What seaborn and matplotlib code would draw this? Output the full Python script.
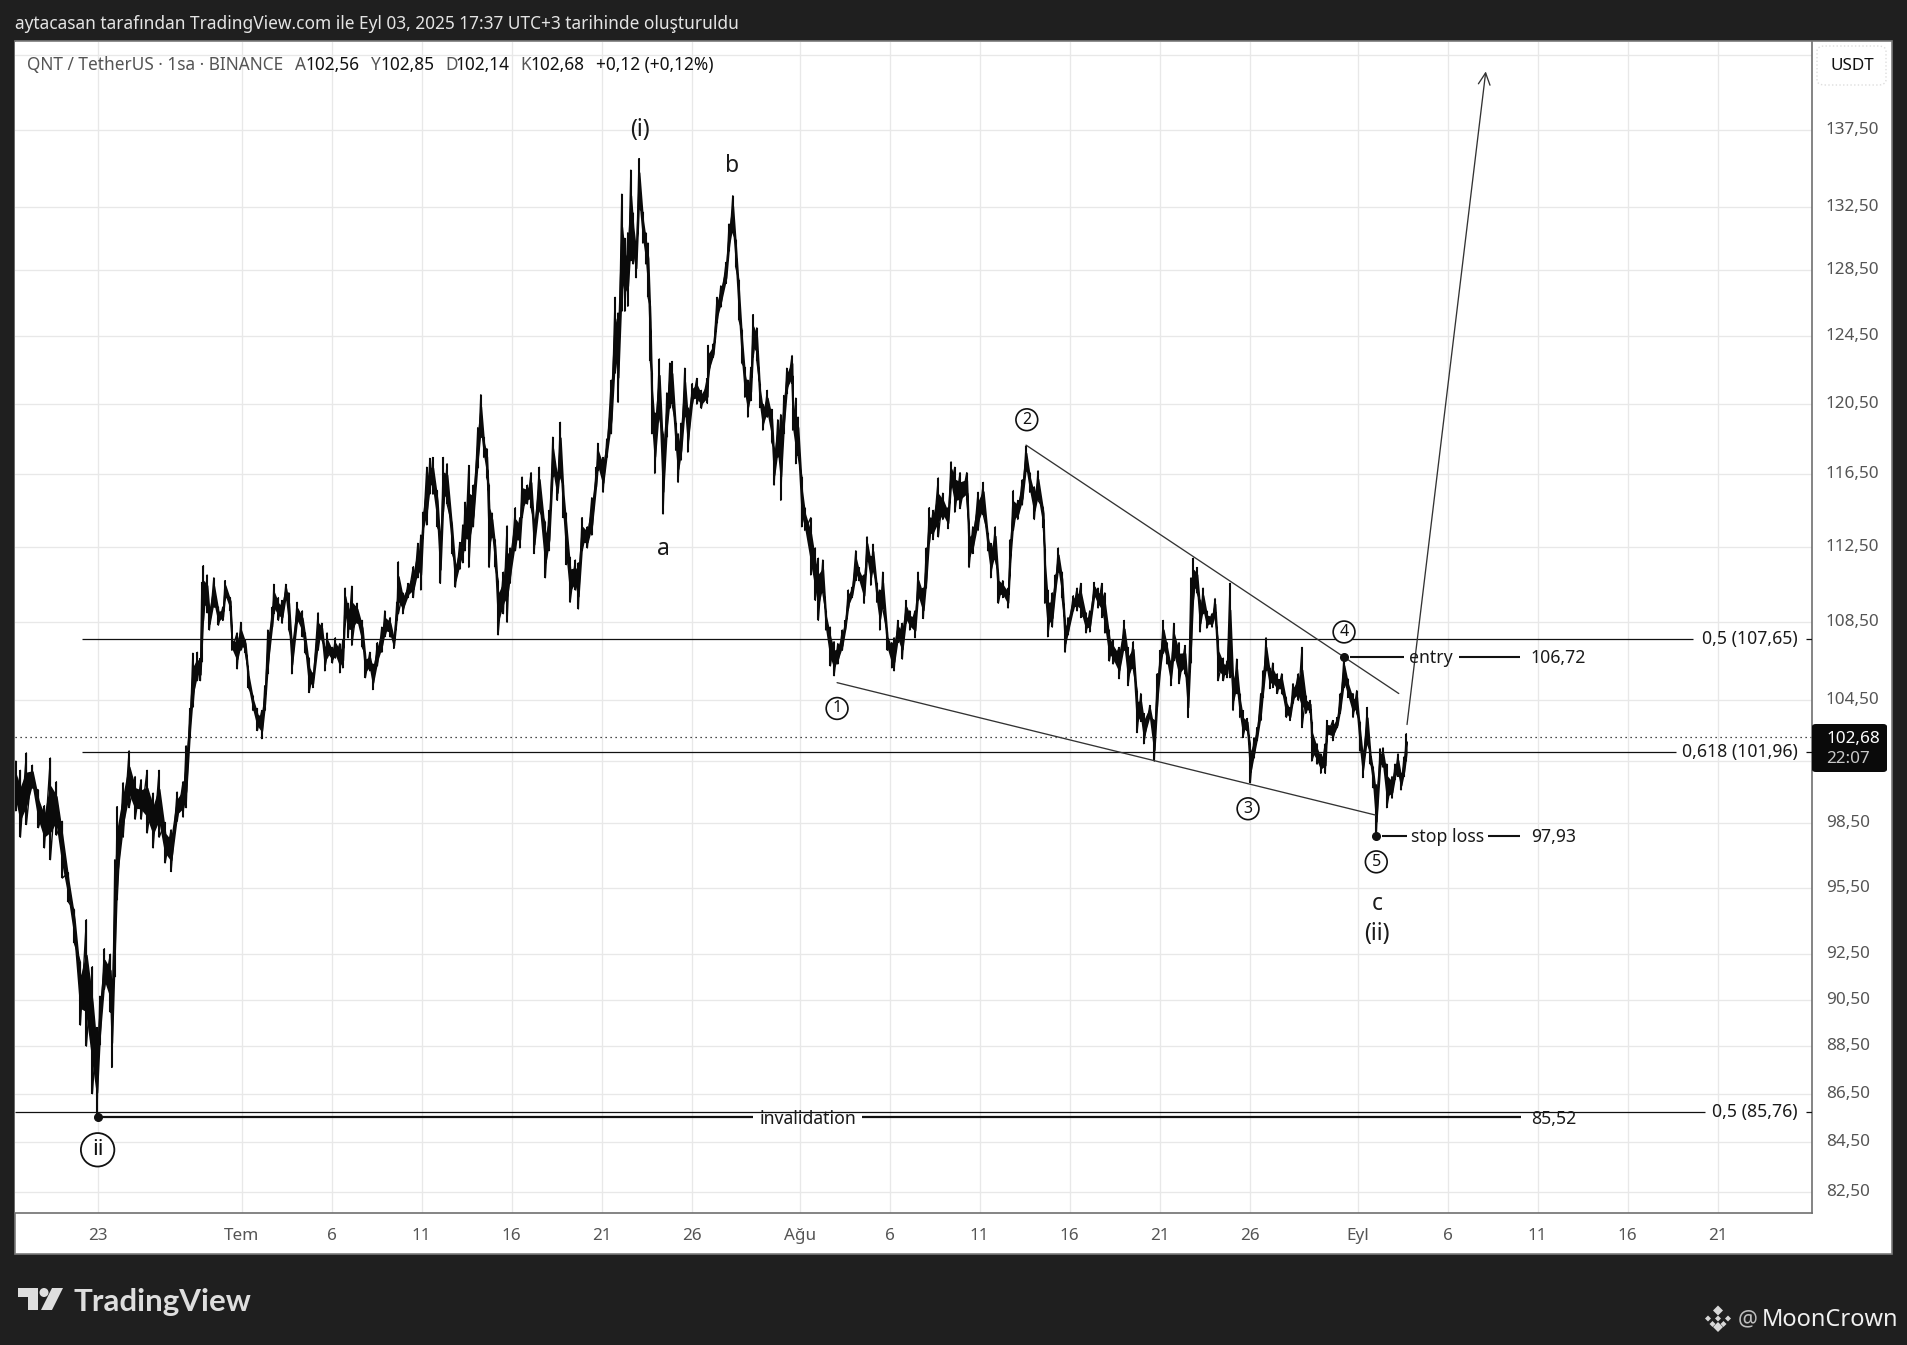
import matplotlib
matplotlib.use("Agg")
import matplotlib.pyplot as plt
import seaborn as sns
import pandas as pd
import numpy as np
from matplotlib.patches import Rectangle, Polygon, FancyBboxPatch, Ellipse
from matplotlib.ticker import NullLocator
from matplotlib.transforms import ScaledTranslation

W, H = 1908, 1345
BG = "#1f1f1f"
FONT = "Noto Sans"

# hours since 18 June 00:00 (1 hour candles, sampled)
hours = [
 11,17,25,33,41,49,57,65,73,81,
 89,97,105,113,119,123,129,137,139,143,
 146,154,162,170,178,186,194,202,210,218,
 226,234,238,243,247,253,257,259,261,266,
 269,275,281,287,290,297,299,306,311,317,
 321,327,333,339,343,347,353,355,361,366,
 371,375,379,386,393,397,402,407,414,419,
 423,426,433,437,443,447,450,454,459,466,
 473,477,483,487,493,499,503,510,515,519,
 521,527,534,541,547,551,554,559,563,567,
 573,577,581,586,593,597,603,607,610,615,
 621,627,631,635,639,642,646,650,654,661,
 666,670,677,683,686,693,698,702,709,717,
 722,727,733,737,741,745,750,757,761,766,
 773,779,785,787,794,799,805,810,814,819,
 823,827,831,834,838,842,847,851,854,857,
 859,863,869,874,879,883,886,891,894,898,
 903,907,913,919,925,933,934,941,946,951,
 958,962,967,971,975,979,983,987,991,994,
 999,1003,1007,1013,1019,1022,1027,1031,1035,1039,
 1046,1047,1051,1054,1059,1063,1071,1077,1081,1087,
 1091,1097,1102,1107,1113,1117,1121,1126,1131,1135,
 1142,1146,1151,1154,1159,1163,1167,1173,1179,1182,
 1187,1193,1198,1203,1210,1214,1221,1225,1229,1234,
 1241,1247,1254,1258,1263,1270,1279,1282,1287,1294,
 1301,1307,1311,1317,1321,1327,1334,1337,1341,1347,
 1353,1358,1363,1369,1374,1381,1383,1387,1393,1397,
 1401,1406,1410,1414,1421,1426,1431,1438,1443,1449,
 1454,1459,1463,1469,1474,1482,1489,1494,1501,1506,
 1511,1515,1523,1529,1533,1537,1541,1546,1551,1555,
 1562,1570,1574,1578,1581,1586,1590,1594,1599,1606,
 1610,1614,1621,1626,1630,1634,1639,1643,1647,1653,
 1657,1662,1666,1671,1674,1678,1683,1687,1693,1699,
 1705,1710,1714,1721,1726,1731,1737,1739,1746,1751,
 1757,1759,1767,1773,1777,1782,1787,1794,1799,1803,
 1807,1813,1817,1821,1825,1830,1834,1839,1846,1850,
 1854,1858,1862,1865]

highs = [
 101.5,101.05,101.9,101.3,100.1,99.35,101.65,100.5,98.6,96.2,
 94.5,92.15,94.05,91.95,89.3,90.65,92.75,92.5,91.4,96.8,
 99.3,100.45,102.0,100.75,100.6,101.05,99.95,101.05,98.55,98.2,
 100.0,100.5,102.25,104.1,106.9,106.95,106.65,110.6,111.5,111.0,
 109.3,110.85,109.3,109.3,110.7,109.8,107.75,107.95,108.5,107.6,
 106.0,104.75,104.1,104.0,105.25,108.1,109.3,110.5,109.8,109.65,
 110.5,110.05,107.6,109.55,109.1,107.95,106.65,105.9,109.0,108.45,
 107.2,107.95,107.2,107.7,107.4,107.6,110.3,109.5,110.4,109.5,
 108.6,106.9,106.95,106.35,107.45,108.25,109.1,108.75,107.75,109.55,
 111.7,110.05,110.55,111.45,112.7,113.15,114.4,116.9,117.4,117.45,
 115.6,113.25,117.45,117.1,113.7,111.65,112.75,113.7,114.95,117.0,
 115.9,119.15,121.05,118.6,117.95,115.9,114.35,112.9,110.7,111.15,
 113.65,112.45,114.65,114.1,116.35,115.9,116.6,113.95,116.9,113.85,
 114.5,118.6,116.6,119.45,115.9,114.35,111.95,111.8,111.65,114.1,
 113.6,115.2,116.9,118.25,117.45,118.5,121.9,126.85,125.9,133.3,
 130.5,130.85,134.85,132.1,130.2,135.6,132.15,130.85,130.2,126.3,
 122.3,120.0,123.15,118.8,121.15,122.9,123.0,119.4,118.8,119.4,
 122.6,120.3,121.7,122.0,121.3,122.0,123.95,124.05,126.85,127.55,
 129.0,131.4,133.2,130.4,127.9,124.9,122.65,121.9,122.65,125.8,
 125.0,121.7,120.5,121.3,120.2,118.0,119.6,119.9,121.0,122.6,
 123.35,120.3,120.85,119.75,116.35,114.65,114.1,112.45,111.9,111.8,
 109.1,108.25,107.5,107.4,108.1,108.6,110.2,110.35,112.3,111.4,
 111.0,113.05,112.0,112.65,110.55,110.2,111.15,108.0,107.45,107.7,
 108.6,108.45,109.65,109.1,109.1,111.15,110.3,112.45,114.65,114.5,
 116.3,115.45,114.65,117.2,116.9,116.6,116.6,113.6,113.6,115.5,
 116.05,113.25,112.7,113.6,111.15,110.7,110.3,112.9,115.6,115.05,
 116.2,118.1,116.6,115.8,116.7,114.65,112.4,110.2,110.05,111.0,
 112.45,111.15,108.6,108.75,109.9,110.3,110.55,109.0,109.1,110.6,
 110.3,110.55,110.05,108.1,107.6,107.2,108.6,107.2,107.5,105.0,
 104.85,103.85,104.25,103.5,105.85,107.05,108.6,107.45,106.5,108.45,
 107.45,107.3,105.5,110.85,111.9,111.4,109.65,110.3,109.1,108.95,
 109.75,107.6,106.65,106.5,110.55,105.85,106.6,104.85,104.0,103.6,
 102.35,102.65,103.15,104.85,106.0,107.7,106.15,106.4,105.85,105.85,
 104.65,104.15,105.35,105.85,107.2,104.75,104.5,103.45,102.35,101.85,
 102.35,103.5,103.5,103.65,104.85,106.72,105.6,104.85,105.0,103.45,
 102.0,104.15,102.0,101.2,100.35,102.1,102.15,101.35,100.75,101.35,
 101.85,100.9,101.7,102.85]

lows = [
 99.1,97.85,98.45,100.2,98.3,97.35,96.8,97.95,95.95,94.85,
 93.0,89.4,88.5,86.5,85.52,88.55,90.95,89.95,87.6,91.5,
 94.95,97.85,99.25,98.7,98.7,98.05,97.35,97.85,96.65,96.25,
 98.6,98.8,99.25,102.65,104.15,105.5,105.5,106.45,108.55,109.0,
 108.1,109.3,108.35,108.6,109.8,109.1,107.05,106.1,107.05,106.9,
 105.15,104.0,103.0,102.6,104.0,105.85,108.25,108.95,108.6,108.45,
 109.8,108.1,105.85,108.45,107.75,106.9,104.9,105.15,107.05,107.6,
 106.0,106.65,106.4,106.65,105.9,106.15,108.75,107.7,107.3,108.45,
 107.2,105.65,106.0,105.05,106.25,106.95,107.75,107.75,107.15,108.6,
 108.95,108.95,109.8,109.8,110.85,110.2,113.25,113.7,115.4,115.4,
 113.6,110.55,114.4,114.85,112.15,110.35,111.3,111.65,112.3,111.4,
 113.6,116.85,118.6,117.45,116.3,111.4,113.05,111.45,107.85,108.95,
 108.5,110.55,112.3,112.45,114.1,114.85,114.65,112.15,114.5,110.85,
 112.3,116.35,115.05,116.35,114.1,111.55,109.55,110.2,109.2,112.3,
 112.45,113.15,115.8,116.7,115.5,117.45,118.8,122.3,120.6,126.0,
 126.0,126.3,129.1,128.9,128.05,132.4,130.2,128.9,126.85,123.0,
 118.8,116.55,119.75,114.3,118.6,120.25,120.5,117.85,116.05,117.3,
 119.75,117.75,120.5,120.5,120.25,120.55,121.9,123.25,125.3,126.25,
 127.7,129.7,130.85,128.7,125.5,122.9,120.9,119.75,120.7,123.25,
 123.05,120.3,119.0,119.75,118.3,115.9,117.45,115.05,118.8,121.1,
 121.7,119.0,117.1,117.55,113.6,113.4,111.0,109.65,108.6,110.05,
 108.1,106.25,105.75,106.35,107.05,108.1,109.2,109.8,110.7,110.7,
 109.5,111.8,110.45,111.3,109.55,108.1,109.2,107.05,106.15,106.0,
 107.45,106.6,108.45,108.1,107.7,109.65,108.7,110.3,112.7,112.9,
 113.05,114.0,113.5,115.8,114.4,114.6,115.05,111.4,112.15,113.4,
 114.25,112.3,110.85,111.8,109.5,109.8,109.25,111.65,113.4,114.0,
 114.8,116.7,115.5,114.0,115.05,113.55,109.5,107.75,108.25,110.05,
 111.15,109.8,106.95,107.85,109.1,109.1,108.75,107.95,108.0,109.8,
 109.25,108.75,107.95,106.5,106.35,105.6,107.05,105.25,106.1,102.9,
 103.45,102.35,103.65,101.5,104.15,106.0,106.9,106.35,105.25,106.5,
 105.35,105.85,103.65,106.4,109.65,110.05,108.0,108.95,108.2,108.25,
 108.75,105.5,105.5,105.65,105.65,104.0,104.85,103.65,102.65,103.0,
 100.45,101.65,102.5,103.5,104.65,106.0,105.1,105.15,104.85,104.85,
 103.65,103.5,104.35,104.5,103.15,103.85,103.85,101.5,101.35,100.9,
 100.9,102.65,102.5,103.15,103.85,105.15,104.65,103.65,103.85,102.0,
 100.7,102.35,101.35,100.2,97.93,101.05,101.2,99.25,99.7,100.6,
 100.75,100.1,100.75,101.5]

price_ticks = [142.5,137.5,132.5,128.5,124.5,120.5,116.5,112.5,108.5,104.5,101.5,98.5,95.5,92.5,90.5,88.5,86.5,84.5,82.5]
hidden_price_ticks = [142.5, 101.5]
time_ticks = [120,312,432,552,672,792,912,1056,1176,1296,1416,1536,1656,1800,1920,2040,2160,2280]
time_labels = ["23","Tem","6","11","16","21","26","Ağu","6","11","16","21","26","Eyl","6","11","16","21"]

last_price = 102.68
fib_05_up, fib_0618, fib_05_low = 107.65, 101.96, 85.76
entry, stop_loss, invalidation = 106.72, 97.93, 85.52
upper_wedge_h, upper_wedge_p = [1358, 1855], [118.15, 104.85]
lower_wedge_h, lower_wedge_p = [1106, 1824], [105.4, 98.9]
forecast_h, forecast_p = [1866, 1971], [103.3, 141.4]

def fx(x): return x / W
def fy(y): return 1 - y / H

sns.set_theme(style="white")
plt.rcParams["font.family"] = [FONT, "DejaVu Sans"]

fig = plt.figure(figsize=(W / 100, H / 100), dpi=100, facecolor=BG)
fig.add_artist(Rectangle((fx(15), fy(1254)), (1892 - 15) / W, (1254 - 41) / H, transform=fig.transFigure,
                         facecolor="white", edgecolor="#7a7a7a", lw=1.2, zorder=0))

ax = fig.add_axes([fx(15.5), fy(1213), (1812 - 15.5) / W, (1213 - 41.5) / H], zorder=1)
ax.set_facecolor("white")
ax.set_yscale("log")
ax.set_xlim(10.5, 2406)
ax.set_ylim(81.68, 143.45)

ax.yaxis.tick_right()
ax.set_yticks(price_ticks)
ax.set_yticklabels(["" if p in hidden_price_ticks else f"{p:.2f}".replace(".", ",") for p in price_ticks],
                   fontsize=12.3, color="#555555")
ax.yaxis.set_minor_locator(NullLocator())
ax.set_xticks(time_ticks)
ax.set_xticklabels(time_labels, fontsize=12.3, color="#555555")
ax.tick_params(axis="x", length=0, pad=11)
ax.tick_params(axis="y", length=0, pad=10)
up = ScaledTranslation(0, 2 / 100, fig.dpi_scale_trans)
for t in ax.get_yticklabels():
    t.set_transform(t.get_transform() + up)
ax.grid(True, color="#e8e8e8", lw=0.95)
ax.set_axisbelow(True)
for s in ["top", "left"]:
    ax.spines[s].set_visible(False)
for s in ["bottom", "right"]:
    ax.spines[s].set_color("#6f6f6f")
    ax.spines[s].set_linewidth(1.2)

# price trace: sawtooth through every high and low, wicks and a dense candle-body band
hs = np.array(hours, dtype=float); hi = np.array(highs); lo = np.array(lows)
trace_x = np.repeat(hs, 2)
trace_y = np.column_stack([hi, lo]).ravel()
trace = pd.DataFrame({"hour": trace_x, "price": trace_y})
sns.lineplot(data=trace, x="hour", y="price", estimator=None, sort=False, color="#0a0a0a",
             lw=1.0, ax=ax, legend=False, zorder=3)
ax.vlines(hs, lo, hi, color="#0a0a0a", lw=1.5, zorder=3)
body_hi = np.exp(np.log(lo) + 0.72 * (np.log(hi) - np.log(lo)))
body_lo = np.exp(np.log(lo) + 0.28 * (np.log(hi) - np.log(lo)))
ax.fill_between(hs, body_lo, body_hi, color="#0a0a0a", lw=1.2, zorder=3)
ax.set_xlabel(""); ax.set_ylabel("")

ink = "#111111"
def h_line(x0, x1, p, lw=0.9, **kw):
    ax.plot([x0, x1], [p, p], color=kw.pop("color", ink), lw=lw, solid_capstyle="butt", zorder=4, **kw)

h_line(98.8, 2247, fib_05_up); h_line(2398, 2406, fib_05_up)
h_line(98.8, 2225, fib_0618); h_line(2398, 2406, fib_0618)
h_line(10.5, 2263, fib_05_low); h_line(2398, 2406, fib_05_low)
ax.plot([10.5, 2406], [last_price, last_price], color="#111111", lw=0.9, ls=(0, (1, 3)), zorder=2)

def lab(x, p, s, size=12.7, ha="left", dy=-1.2):
    ax.annotate(s, xy=(x, p), xytext=(0, dy), textcoords="offset points", fontsize=size, ha=ha, va="center",
                color="#1a1a1a", zorder=6)

lab(2387, fib_05_up, "0,5 (107,65)", ha="right", dy=0)
lab(2387, fib_0618, "0,618 (101,96)", ha="right", dy=0)
lab(2387, fib_05_low, "0,5 (85,76)", ha="right", dy=0)

h_line(126, 994, invalidation, lw=1.6); h_line(1139, 2018, invalidation, lw=1.6)
lab(1067, invalidation, "invalidation", ha="center"); lab(2031, invalidation, "85,52")
h_line(1790, 1862, entry, lw=1.5); h_line(1935, 2017, entry, lw=1.5)
lab(1898, entry, "entry", ha="center"); lab(2031, entry, "106,72")
h_line(1832, 1866, stop_loss, lw=1.5); h_line(1974, 2017, stop_loss, lw=1.5)
lab(1920, stop_loss, "stop loss", ha="center"); lab(2031, stop_loss, "97,93")
ax.plot([120, 1782, 1825], [invalidation, entry, stop_loss], ls="none", marker="o", ms=5.5, color=ink, zorder=7)

ax.plot(upper_wedge_h, upper_wedge_p, color="#333333", lw=0.95, zorder=4)
ax.plot(lower_wedge_h, lower_wedge_p, color="#333333", lw=0.95, zorder=4)
ax.annotate("", xy=(forecast_h[1], forecast_p[1]), xytext=(forecast_h[0], forecast_p[0]),
            arrowprops=dict(arrowstyle="->,head_length=0.7,head_width=0.35", color="#333333", lw=0.95, shrinkA=0, shrinkB=0), zorder=5)

for x, p, s in [(843, 137.6, "(i)"), (966, 135.2, "b"), (874, 112.5, "a"), (1826, 94.85, "c"), (1826, 93.5, "(ii)")]:
    ax.annotate(s, xy=(x, p), xytext=(0, -1.2), textcoords="offset points", fontsize=16.5, ha="center", va="center",
                color="#1a1a1a", zorder=6)
for x, p, s in [(1106, 104.1, "1"), (1359, 119.6, "2"), (1654, 99.2, "3"), (1782, 108.0, "4"), (1825, 96.7, "5")]:
    ax.text(x, p, s, fontsize=11.5, ha="center", va="center", color="#111111", zorder=6,
            bbox=dict(boxstyle="circle,pad=0.18", fc="white", ec="#111111", lw=1.2))
ax.text(120, 84.2, "ii", fontsize=16, ha="center", va="center", color="#111111", zorder=6,
        bbox=dict(boxstyle="circle,pad=0.28", fc="white", ec="#111111", lw=1.3))

# price badge
fig.add_artist(FancyBboxPatch((fx(1812), fy(772)), (1887 - 1812) / W, (772 - 724) / H, transform=fig.transFigure,
                              boxstyle="round,pad=0,rounding_size=0.002", fc="#0a0a0a", ec="none", zorder=5))
fig.text(fx(1826), fy(739), "102,68", fontsize=12.3, color="white", fontweight="bold", va="center", zorder=6)
fig.text(fx(1826), fy(759), "22:07", fontsize=12.3, color="#c8c8c8", va="center", zorder=6)

# USDT box
fig.add_artist(FancyBboxPatch((fx(1817), fy(85)), (1886 - 1817) / W, (85 - 46) / H, transform=fig.transFigure,
                              boxstyle="round,pad=0,rounding_size=0.004", fc="white", ec="#dddddd", lw=1, ls=":", zorder=5))
fig.text(fx(1852), fy(66), "USDT", fontsize=12.3, color="#111111", ha="center", va="center", zorder=6)

# header and legend
fig.text(fx(15), fy(24), "aytacasan tarafından TradingView.com ile Eyl 03, 2025 17:37 UTC+3 tarihinde oluşturuldu",
         fontsize=12.45, color="#e4e4e4", va="center")
grey, blk = "#555555", "#111111"
for x, s, c in [(27, "QNT / TetherUS · 1sa · BINANCE", grey), (295, "A", grey), (306, "102,56", blk), (371, "Y", grey),
                (381, "102,85", blk), (445, "D", grey), (456, "102,14", blk), (520, "K", grey), (531, "102,68", blk),
                (596, "+0,12 (+0,12%)", blk)]:
    fig.text(fx(x), fy(65), s, fontsize=12.4, color=c, va="center", zorder=6)

# footer
logo = "#dedede"
fig.add_artist(Polygon([(fx(18), fy(1288)), (fx(38), fy(1288)), (fx(38), fy(1310)), (fx(28), fy(1310)), (fx(28), fy(1297)), (fx(18), fy(1297))],
                       closed=True, transform=fig.transFigure, fc=logo, ec="none"))
fig.add_artist(Ellipse((fx(44), fy(1292.5)), 9 / W, 9 / H, transform=fig.transFigure, fc=logo, ec="none"))
fig.add_artist(Polygon([(fx(52), fy(1288)), (fx(63), fy(1288)), (fx(52), fy(1310)), (fx(41), fy(1310))],
                       closed=True, transform=fig.transFigure, fc=logo, ec="none"))
fig.text(fx(74), fy(1302), "TradingView", fontsize=22.5, color=logo, va="center", fontweight="bold", family="Lato")

mc = "#d8d8d8"
cx, cy = 1718, 1318.5
for dx, dy, r in [(0, -8, 5), (0, 0, 3), (-10, 0, 3), (10, 0, 3), (0, 8.5, 5), (-5.5, 5.5, 3), (5.5, 5.5, 3)]:
    x, y = cx + dx, cy + dy
    fig.add_artist(Polygon([(fx(x - r), fy(y)), (fx(x), fy(y - r)), (fx(x + r), fy(y)), (fx(x), fy(y + r))], closed=True,
                           transform=fig.transFigure, fc=mc, ec="none"))
fig.text(fx(1738), fy(1320), "@", fontsize=16, color="#bdbdbd", va="center")
fig.text(fx(1762), fy(1320), "MoonCrown", fontsize=17, color="#f0f0f0", va="center")

fig.savefig("out.png", dpi=100, facecolor=BG)
